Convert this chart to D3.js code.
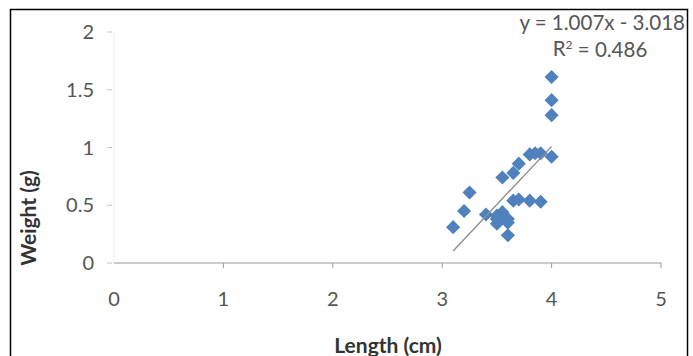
<!DOCTYPE html>
<html><head><meta charset="utf-8">
<script src="https://cdn.jsdelivr.net/npm/d3@7"></script>
<style>body{margin:0;background:#fff}svg{display:block}text{font-family:Lato,"Open Sans",sans-serif}</style>
</head><body>
<script>
const lengths = [3.1, 3.2, 3.25, 3.4, 3.5, 3.5, 3.5, 3.55, 3.6, 3.6, 3.6, 3.55, 3.65, 3.7, 3.65, 3.7, 3.8, 3.9, 3.8, 3.85, 3.9, 4.0, 4.0, 4.0, 4.0];
const weights = [0.31, 0.45, 0.61, 0.42, 0.38, 0.34, 0.41, 0.44, 0.35, 0.24, 0.38, 0.74, 0.54, 0.55, 0.78, 0.86, 0.54, 0.53, 0.94, 0.95, 0.95, 0.92, 1.28, 1.41, 1.61];
const xTicks = [0, 1, 2, 3, 4, 5];
const yTicks = [0, 0.5, 1, 1.5, 2];
const slope = 1.007, intercept = -3.018, r2 = 0.486;

const W = 693, H = 356;
const svg = d3.select("body").append("svg").attr("width", W).attr("height", H);
svg.append("rect").attr("x", 10.5).attr("y", 9.5).attr("width", 677).attr("height", 360)
  .attr("fill", "#fff").attr("stroke", "#000").attr("stroke-width", 1.5);

const x = d3.scaleLinear().domain([0, 5]).range([114, 661]);
const y = d3.scaleLinear().domain([0, 2]).range([263, 32]);

// y axis (faint)
svg.append("line").attr("x1", x(0)).attr("x2", x(0)).attr("y1", y(2)).attr("y2", y(0))
  .attr("stroke", "#f0f0f0").attr("stroke-width", 1);
const ya = svg.append("g");
yTicks.forEach(t => {
  ya.append("line").attr("x1", x(0) - 7).attr("x2", x(0) - 2).attr("y1", y(t)).attr("y2", y(t))
    .attr("stroke", "#c4c4c4");
  ya.append("text").attr("x", x(0) - 20).attr("y", y(t)).attr("dy", "0.36em")
    .attr("text-anchor", "end").attr("font-size", 20).attr("fill", "#555")
    .text(d3.format("")(t));
});
// x axis
svg.append("line").attr("x1", x(0)).attr("x2", x(5)).attr("y1", y(0)).attr("y2", y(0))
  .attr("stroke", "#999").attr("stroke-width", 1.2);
xTicks.forEach(t => {
  if (t > 0) svg.append("line").attr("x1", x(t)).attr("x2", x(t)).attr("y1", y(0)).attr("y2", y(0) + 5)
    .attr("stroke", "#999");
  svg.append("text").attr("x", x(t)).attr("y", 299).attr("dy", "0.36em")
    .attr("text-anchor", "middle").attr("font-size", 20).attr("fill", "#555").text(t);
});

// points
const pts = lengths.map((l, i) => ({l, w: weights[i]}));
svg.append("g").selectAll("path").data(pts).enter().append("path")
  .attr("d", d3.symbol().type(d3.symbolSquare).size(100))
  .attr("transform", d => `translate(${x(d.l)},${y(d.w)}) rotate(45)`)
  .attr("fill", "#4f81bd");

// trendline
const xmin = d3.min(lengths), xmax = d3.max(lengths);
svg.append("line").attr("x1", x(xmin)).attr("y1", y(slope * xmin + intercept))
  .attr("x2", x(xmax)).attr("y2", y(slope * xmax + intercept))
  .attr("stroke", "#8c8c8c").attr("stroke-width", 1.3);

// equation
svg.append("text").attr("x", 685).attr("y", 23).attr("dy", "0.36em").attr("text-anchor", "end")
  .attr("font-size", 20.5).attr("fill", "#555").text(`y = ${slope}x - ${Math.abs(intercept).toFixed(3)}`);
const r = svg.append("text").attr("x", 600).attr("y", 49).attr("dy", "0.36em").attr("text-anchor", "middle")
  .attr("font-size", 20.5).attr("fill", "#555");
r.append("tspan").text("R");
r.append("tspan").attr("font-size", 12).attr("dy", "-0.6em").text("2");
r.append("tspan").attr("dy", "0.36em").text(` = ${r2}`);

// axis titles
svg.append("text").attr("x", 388).attr("y", 345).attr("dy", "0.36em").attr("text-anchor", "middle")
  .attr("font-size", 21).attr("font-weight", "bold").attr("fill", "#333").text("Length (cm)");
svg.append("text").attr("transform", "translate(28,218) rotate(-90)").attr("dy", "0.36em")
  .attr("text-anchor", "middle").attr("font-size", 21).attr("font-weight", "bold").attr("fill", "#333")
  .text("Weight (g)");
</script>
</body></html>
